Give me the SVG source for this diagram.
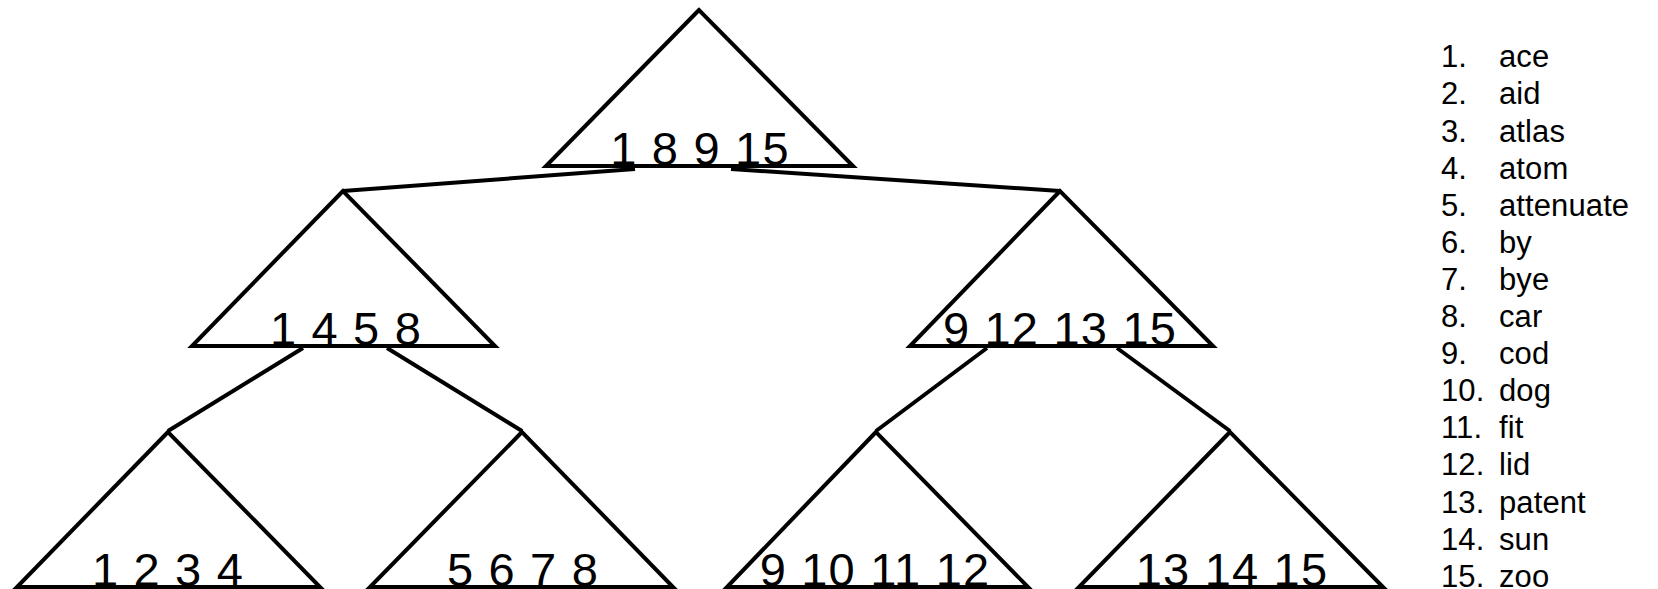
<svg xmlns="http://www.w3.org/2000/svg" width="1658" height="589" viewBox="0 0 1658 589">
<style>
.tri{fill:none;stroke:#000;stroke-width:4;stroke-linejoin:miter}
.edge{fill:none;stroke:#000;stroke-width:4}
.lbl{font-family:"Liberation Sans",Arial,sans-serif;font-size:47px;letter-spacing:1.2px;fill:#000;text-anchor:middle}
.li{font-family:"Liberation Sans",Arial,sans-serif;font-size:31px;letter-spacing:0.1px;fill:#000}
</style>
<rect width="1658" height="589" fill="#fff"/>
<g id="connectors">
<line class="edge" x1="635" y1="169" x2="343" y2="191"/>
<line class="edge" x1="731" y1="169" x2="1060" y2="191"/>
<line class="edge" x1="303" y1="348" x2="168" y2="431"/>
<line class="edge" x1="387" y1="348" x2="522" y2="431"/>
<line class="edge" x1="987" y1="348" x2="876" y2="431"/>
<line class="edge" x1="1117" y1="348" x2="1230" y2="431"/>
</g>
<g id="root">
<polygon class="tri" points="699,10 546,166 853,166"/>
<text class="lbl" x="700" y="165">1 8 9 15</text>
</g>
<g id="mid-left">
<polygon class="tri" points="343,191 192,346 495,346"/>
<text class="lbl" x="346" y="345">1 4 5 8</text>
</g>
<g id="mid-right">
<polygon class="tri" points="1060,191 910,346 1213,346"/>
<text class="lbl" x="1060" y="345">9 12 13 15</text>
</g>
<g id="leaf1">
<polygon class="tri" points="168,432 17,587 320,587"/>
<text class="lbl" x="168" y="586">1 2 3 4</text>
</g>
<g id="leaf2">
<polygon class="tri" points="522,432 370,587 673,587"/>
<text class="lbl" x="523" y="586">5 6 7 8</text>
</g>
<g id="leaf3">
<polygon class="tri" points="876,432 727,587 1028,587"/>
<text class="lbl" x="875" y="586">9 10 11 12</text>
</g>
<g id="leaf4">
<polygon class="tri" points="1230,432 1079,587 1383,587"/>
<text class="lbl" x="1232" y="586">13 14 15</text>
</g>
<g id="legend">
<text class="li" x="1441" y="67.3">1.</text><text class="li" x="1499" y="67.3">ace</text>
<text class="li" x="1441" y="104.4">2.</text><text class="li" x="1499" y="104.4">aid</text>
<text class="li" x="1441" y="141.5">3.</text><text class="li" x="1499" y="141.5">atlas</text>
<text class="li" x="1441" y="178.6">4.</text><text class="li" x="1499" y="178.6">atom</text>
<text class="li" x="1441" y="215.7">5.</text><text class="li" x="1499" y="215.7">attenuate</text>
<text class="li" x="1441" y="252.8">6.</text><text class="li" x="1499" y="252.8">by</text>
<text class="li" x="1441" y="289.9">7.</text><text class="li" x="1499" y="289.9">bye</text>
<text class="li" x="1441" y="327">8.</text><text class="li" x="1499" y="327">car</text>
<text class="li" x="1441" y="364.1">9.</text><text class="li" x="1499" y="364.1">cod</text>
<text class="li" x="1441" y="401.2">10.</text><text class="li" x="1499" y="401.2">dog</text>
<text class="li" x="1441" y="438.3">11.</text><text class="li" x="1499" y="438.3">fit</text>
<text class="li" x="1441" y="475.4">12.</text><text class="li" x="1499" y="475.4">lid</text>
<text class="li" x="1441" y="512.5">13.</text><text class="li" x="1499" y="512.5">patent</text>
<text class="li" x="1441" y="549.6">14.</text><text class="li" x="1499" y="549.6">sun</text>
<text class="li" x="1441" y="586.7">15.</text><text class="li" x="1499" y="586.7">zoo</text>
</g>
</svg>
